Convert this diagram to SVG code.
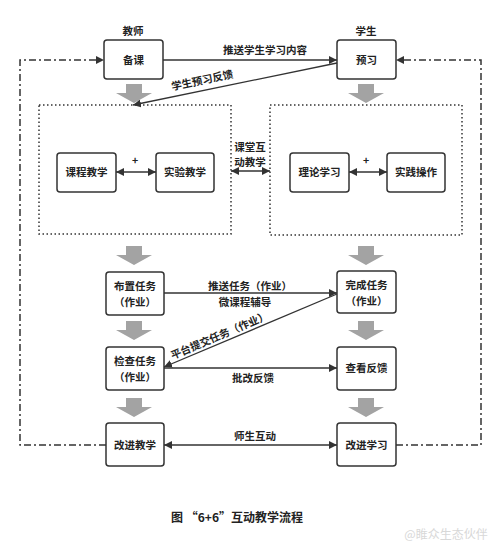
<svg xmlns="http://www.w3.org/2000/svg" width="500" height="555" viewBox="0 0 500 555">
<style>
text{font-family:"Noto Sans CJK SC","Liberation Sans",sans-serif;font-size:10.5px;font-weight:bold;fill:#222;text-anchor:middle}
.box{fill:#fff;stroke:#333;stroke-width:1.5}
.ln{stroke:#333;stroke-width:1.3;fill:none}
.dd{stroke:#333;stroke-width:1.5;fill:none;stroke-dasharray:7,3,2,3}
.dot{stroke:#333;stroke-width:1.5;fill:none;stroke-dasharray:1.5,2.5}
.ga{fill:#a3a3a3}
</style>
<defs>
<marker id="ah" viewBox="0 0 10 10" refX="10" refY="5" markerWidth="8" markerHeight="8" markerUnits="userSpaceOnUse" orient="auto-start-reverse"><path d="M0,0L10,5L0,10Z" fill="#333"/></marker>
<path id="garr" d="M-8,0H8V9H18L0,19L-18,9H-8Z"/>
</defs>
<g id="labels">
<text x="133" y="35">教师</text>
<text x="366" y="35">学生</text>
</g>
<g id="gray-arrows" class="ga">
<use href="#garr" x="134" y="84"/>
<use href="#garr" x="366" y="84"/>
<use href="#garr" x="134" y="246"/>
<use href="#garr" x="366" y="246"/>
<use href="#garr" x="134" y="321"/>
<use href="#garr" x="366" y="321"/>
<use href="#garr" x="134" y="398"/>
<use href="#garr" x="366" y="398"/>
</g>
<g id="connectors">
<path class="dd" d="M106,445H20V60H104" marker-end="url(#ah)"/>
<path class="dd" d="M396,445H481V60H396" marker-end="url(#ah)"/>
<path class="ln" d="M163,60H337" marker-end="url(#ah)"/>
<path class="ln" d="M337,63L133,105" marker-end="url(#ah)"/>
<path class="ln" d="M116,172H156" marker-start="url(#ah)" marker-end="url(#ah)"/>
<path class="ln" d="M349,172H387" marker-start="url(#ah)" marker-end="url(#ah)"/>
<path class="ln" d="M231,171H270" marker-start="url(#ah)" marker-end="url(#ah)"/>
<path class="ln" d="M164,293H337" marker-end="url(#ah)"/>
<path class="ln" d="M337,294L164,367" marker-end="url(#ah)"/>
<path class="ln" d="M164,368H337" marker-end="url(#ah)"/>
<path class="ln" d="M164,445H337" marker-start="url(#ah)" marker-end="url(#ah)"/>
<text x="265" y="54">推送学生学习内容</text>
<text transform="translate(203,84) rotate(-12)">学生预习反馈</text>
<text x="135" y="164">+</text>
<text x="366" y="164">+</text>
<text x="250" y="151">课堂互</text>
<text x="250" y="166">动教学</text>
<text x="250" y="290">推送任务（作业）</text>
<text x="245" y="306">微课程辅导</text>
<text transform="translate(221,339) rotate(-23)">平台提交任务（作业）</text>
<text x="253" y="382">批改反馈</text>
<text x="255" y="440">师生互动</text>
</g>
<g id="group-teach"><rect class="dot" x="39" y="105" width="192" height="129"/></g>
<g id="group-learn"><rect class="dot" x="270" y="105" width="192" height="130"/></g>
<g id="n-beike"><rect class="box" x="104" y="40" width="59" height="39" rx="3"/><text x="133.5" y="64">备课</text></g>
<g id="n-yuxi"><rect class="box" x="337" y="40" width="59" height="39" rx="3"/><text x="366.5" y="64">预习</text></g>
<g id="n-kecheng"><rect class="box" x="57" y="153" width="59" height="39" rx="3"/><text x="86.5" y="176">课程教学</text></g>
<g id="n-shiyan"><rect class="box" x="156" y="153" width="58" height="39" rx="3"/><text x="185" y="176">实验教学</text></g>
<g id="n-lilun"><rect class="box" x="290" y="153" width="59" height="39" rx="3"/><text x="319.5" y="176">理论学习</text></g>
<g id="n-shijian"><rect class="box" x="387" y="153" width="58" height="39" rx="3"/><text x="416" y="176">实践操作</text></g>
<g id="n-buzhi"><rect class="box" x="106" y="272" width="58" height="43" rx="3"/><text x="135" y="290">布置任务</text><text x="135" y="306">（作业）</text></g>
<g id="n-wancheng"><rect class="box" x="337" y="271" width="59" height="42" rx="3"/><text x="366.5" y="289">完成任务</text><text x="366.5" y="305">（作业）</text></g>
<g id="n-jiancha"><rect class="box" x="106" y="347" width="58" height="43" rx="3"/><text x="135" y="365">检查任务</text><text x="135" y="381">（作业）</text></g>
<g id="n-chakan"><rect class="box" x="337" y="347" width="59" height="43" rx="3"/><text x="366.5" y="372">查看反馈</text></g>
<g id="n-gaijinjx"><rect class="box" x="106" y="423" width="58" height="43" rx="3"/><text x="135" y="449">改进教学</text></g>
<g id="n-gaijinxx"><rect class="box" x="337" y="423" width="59" height="43" rx="3"/><text x="366.5" y="449">改进学习</text></g>
<g id="caption">
<text x="237" y="522" style="font-size:12px">图 “6+6”互动教学流程</text>
<text x="446" y="539" style="font-size:12px;font-weight:normal;fill:#d8d8d8">@睢众生态伙伴</text>
</g>
</svg>
